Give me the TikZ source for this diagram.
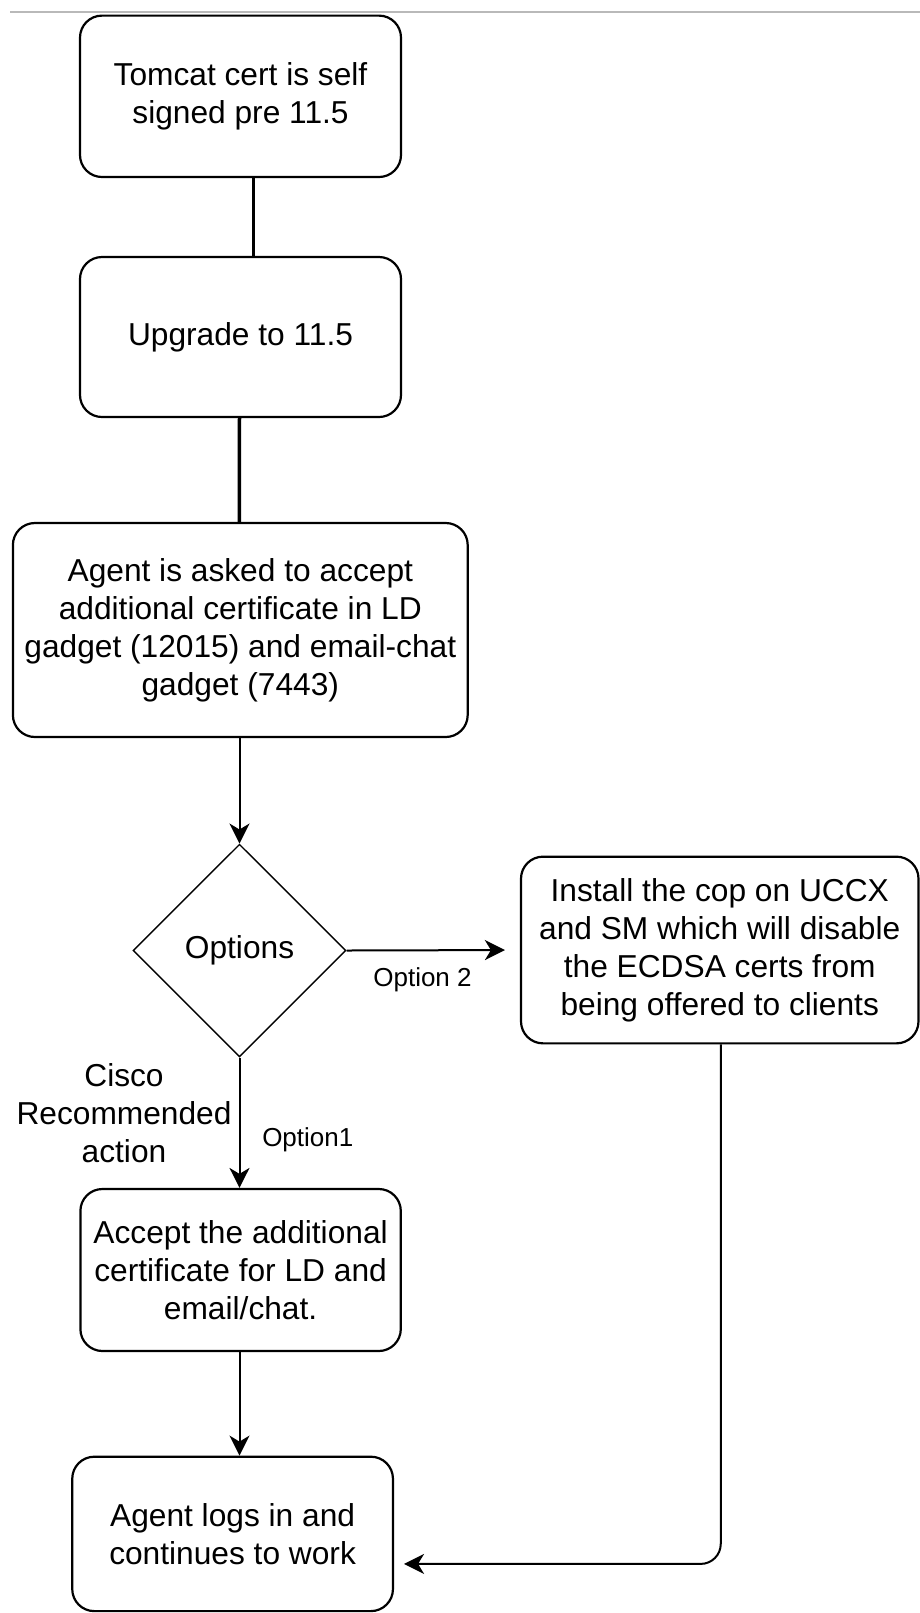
\documentclass[tikz,border=0pt]{standalone}
\usepackage{fontspec}
\setmainfont{Liberation Sans}
\usetikzlibrary{arrows.meta,shapes.geometric,calc}
\begin{document}
\begin{tikzpicture}[x=0.5pt,y=-0.5pt,
  every node/.style={font=\fontsize{15.85}{19}\selectfont, align=center, inner sep=0pt},
  box/.style={draw, line width=1.1pt, rounded corners=11pt},
  dec/.style={draw, diamond, line width=0.7pt, minimum width=106.5pt, minimum height=106.3pt},
  thickline/.style={line width=1.75pt},
  arr/.style={line width=1pt, -{Stealth[length=10pt,width=10pt,inset=3pt]}},
  lab/.style={font=\fontsize{13}{15.5}\selectfont}
]
\useasboundingbox (0,0) rectangle (920,1613);
\draw[line width=1pt, gray!55] (10,11.7) -- (920,11.7);

\node[box, minimum width=160.5pt, minimum height=80.7pt] (b1) at (240.5,96.3) {Tomcat cert is self\\signed pre 11.5};
\node[box, minimum width=160.5pt, minimum height=80pt] (b2) at (240.5,337) {Upgrade to 11.5};
\node[box, minimum width=227.4pt, minimum height=107pt] (b3) at (240.3,630) {Agent is asked to accept\\additional certificate in LD\\gadget (12015) and email-chat\\gadget (7443)};
\node[dec] (d) at (239.5,950.5) {Options};
\node[box, minimum width=198.75pt, minimum height=93.35pt] (b4) at (719.75,950) {Install the cop on UCCX\\and SM which will disable\\the ECDSA certs from\\being offered to clients};
\node[box, minimum width=160.2pt, minimum height=81pt] (b5) at (240.6,1270) {Accept the additional\\certificate for LD and\\email/chat.};
\node[box, minimum width=160.35pt, minimum height=77.2pt] (b6) at (232.6,1533.9) {Agent logs in and\\continues to work};

\draw[thickline] ([xshift=6.5pt]b1.south) -- ([xshift=6.5pt]b2.north);
\draw[thickline] ([xshift=-0.5pt]b2.south) -- ([xshift=-0.5pt]b3.north);
\draw[arr] (b3.south -| d.north) -- (d.north);
\draw[arr, shorten >=7.5pt] (d.east) -- (b4.west);
\draw[arr] (d.south) -- (b5.north -| d.south);
\draw[arr] (b5.south -| d.south) -- (b6.north -| d.south);
\draw[arr, rounded corners=10pt, shorten >=5pt] ([xshift=0.5pt]b4.south) |- ([yshift=-15pt]b6.east);

\node[lab] (l2) at (422.5,980) {Option 2};
\node[lab] (l1) at (307.8,1139.8) {Option1};
\node (cr) at (124,1113) {Cisco\\Recommended\\action};
\end{tikzpicture}
\end{document}
